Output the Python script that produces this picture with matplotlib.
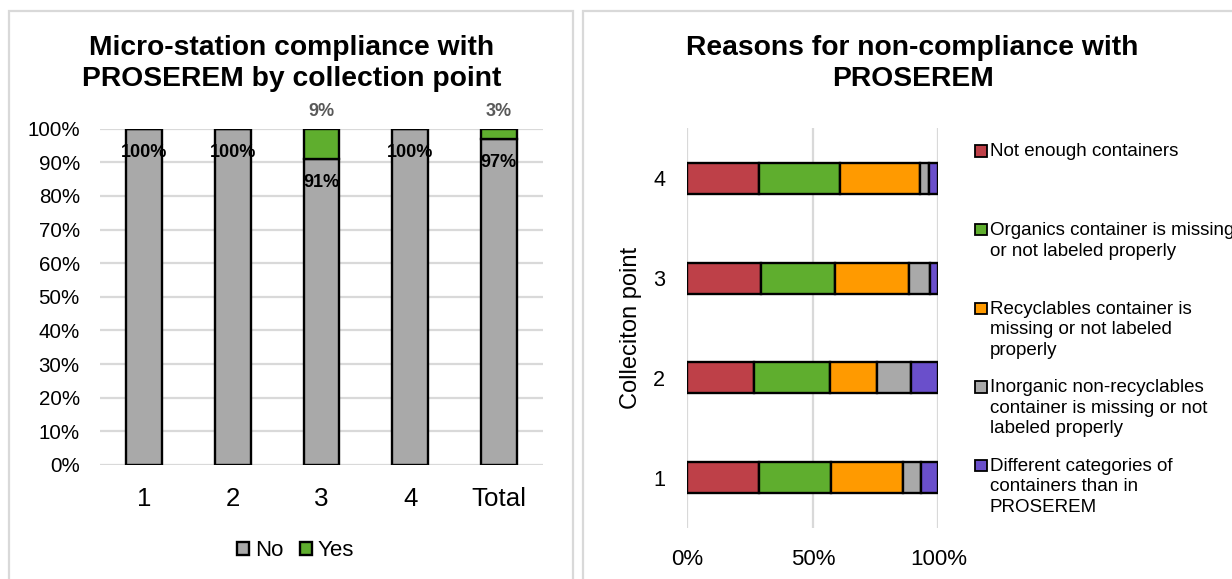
import matplotlib.pyplot as plt
import numpy as np
from matplotlib.patches import Rectangle
from matplotlib.ticker import PercentFormatter

plt.rcParams['font.family'] = ['Liberation Sans', 'DejaVu Sans']

# compliance by collection point (share of micro-stations)
points = ["1", "2", "3", "4", "Total"]
no_share = [1.00, 1.00, 0.91, 1.00, 0.97]
yes_share = [0.00, 0.00, 0.09, 0.00, 0.03]

# reasons for non-compliance, % per collection point (rows 1..4)
rows = ["1", "2", "3", "4"]
reasons = ["Not enough containers",
           "Organics container is missing\nor not labeled properly",
           "Recyclables container is\nmissing or not labeled\nproperly",
           "Inorganic non-recyclables\ncontainer is missing or not\nlabeled properly",
           "Different categories of\ncontainers than in\nPROSEREM"]
not_enough = [28.6, 26.5, 29.2, 28.6]
organics = [28.6, 30.3, 29.7, 32.1]
recyclables = [28.6, 18.8, 29.4, 32.1]
inorganic = [7.1, 13.5, 8.5, 3.6]
different = [7.1, 10.9, 3.2, 3.6]

W, H = 1232, 579
fig = plt.figure(figsize=(W / 100, H / 100), dpi=100)


def fx(px):
    return px / W


def fy(py):
    return 1 - py / H


def box(x0, y0, x1, y1):
    # pixel box (top-left origin) -> figure rect
    return [fx(x0), fy(y1), fx(x1) - fx(x0), fy(y0) - fy(y1)]


# panel frames
fig.patches.append(Rectangle((fx(9), fy(620)), fx(572.7) - fx(9), fy(10.5) - fy(620),
                             transform=fig.transFigure, fill=False, ec="#d9d9d9", lw=1.6))
fig.patches.append(Rectangle((fx(583.3), fy(620)), fx(700), fy(10.5) - fy(620),
                             transform=fig.transFigure, fill=False, ec="#d9d9d9", lw=1.6))

grey, green = "#a9a9a9", "#5fae2e"

# ---- left: stacked columns
ax1 = fig.add_axes(box(99.9, 128.7, 543.1, 465))
x = np.arange(len(points))
ax1.bar(x, no_share, 0.4, color=grey, edgecolor="black", lw=1.7, label="No", zorder=3)
ax1.bar(x, yes_share, 0.4, bottom=no_share, color=green, edgecolor="black", lw=1.7,
        label="Yes", zorder=3)
for i in range(len(points)):
    ax1.annotate(f"{no_share[i]:.0%}", (x[i], no_share[i]), xytext=(0, -24),
                 textcoords="offset pixels", ha="center", va="center",
                 fontsize=13, fontweight="bold", color="black", zorder=4)
    if yes_share[i] > 0:
        top = no_share[i] + yes_share[i]
        ax1.annotate(f"{yes_share[i]:.0%}", (x[i], top), xytext=(0, 17.5),
                     textcoords="offset pixels", ha="center", va="center",
                     fontsize=13, fontweight="bold", color="#595959",
                     annotation_clip=False)
ax1.set_xlim(-0.5, len(points) - 0.5)
ax1.set_ylim(0, 1)
ax1.set_yticks(np.arange(0, 1.01, 0.1))
ax1.yaxis.set_major_formatter(PercentFormatter(1.0, decimals=0))
ax1.set_xticks(x, points)
ax1.tick_params(axis="y", length=0, pad=14.5, labelsize=14.8)
ax1.tick_params(axis="x", length=0, pad=15.5, labelsize=18.6)
ax1.grid(axis="y", color="#d9d9d9", lw=1.6, zorder=0)
for s in ax1.spines.values():
    s.set_visible(False)
ax1.legend(loc="center", bbox_to_anchor=(fx(295.5), fy(551)), bbox_transform=fig.transFigure,
           ncol=2, frameon=False, fontsize=16, handlelength=0.55, handleheight=0.55,
           handletextpad=0.28, columnspacing=0.72, borderpad=0)
fig.text(fx(291.3), fy(63.4), "Micro-station compliance with\nPROSEREM by collection point",
         ha="center", va="center", fontsize=20.3, fontweight="bold", linespacing=1.25)

# ---- right: 100% stacked bars
ax2 = fig.add_axes(box(687.3, 128.4, 938.4, 527.7))
colors = ["#be4048", "#5fae2e", "#ff9a00", "#a9a9a9", "#6a4fcb"]
series = [not_enough, organics, recyclables, inorganic, different]
y = np.arange(len(rows))
left = np.zeros(len(rows))
for vals, c in zip(series, colors):
    v = np.array(vals) / 100
    ax2.barh(y, v, 0.31, left=left, color=c, edgecolor="black", lw=1.7, zorder=3)
    left += v
ax2.set_xlim(0, 1)
ax2.set_ylim(-0.5, len(rows) - 0.5)
ax2.set_xticks([0, 0.5, 1])
ax2.xaxis.set_major_formatter(PercentFormatter(1.0, decimals=0))
ax2.set_yticks(y, rows)
ax2.tick_params(axis="x", length=0, pad=15, labelsize=16)
ax2.tick_params(axis="y", length=0, pad=16, labelsize=15.6)
ax2.grid(axis="x", color="#d9d9d9", lw=1.6, zorder=0)
for s in ax2.spines.values():
    s.set_visible(False)
ax2.set_ylabel("Colleciton point", fontsize=17)
ax2.yaxis.set_label_coords((642 - 687.3) / 251.1, 0.5)
fig.text(fx(912.6), fy(63.3), "Reasons for non-compliance with\nPROSEREM",
         ha="center", va="center", fontsize=20.3, fontweight="bold", linespacing=1.25)

# legend entries: marker beside the first line, each line on its own baseline
fs = 13.5
cap = 0.716 * fs * 100 / 72
for k, (lab, c) in enumerate(zip(reasons, colors)):
    yc = 149.7 + k * 78.6
    fig.patches.append(Rectangle((fx(975.3), fy(yc + 7)), fx(11.3), fy(yc - 4.3) - fy(yc + 7),
                                 transform=fig.transFigure, fc=c, ec="black", lw=1.3))
    for j, line in enumerate(lab.split("\n")):
        fig.text(fx(989.5), fy(yc + cap / 2 + j * 20.6), line, ha="left", va="baseline",
                 fontsize=fs)

fig.savefig("out.png", dpi=100)
